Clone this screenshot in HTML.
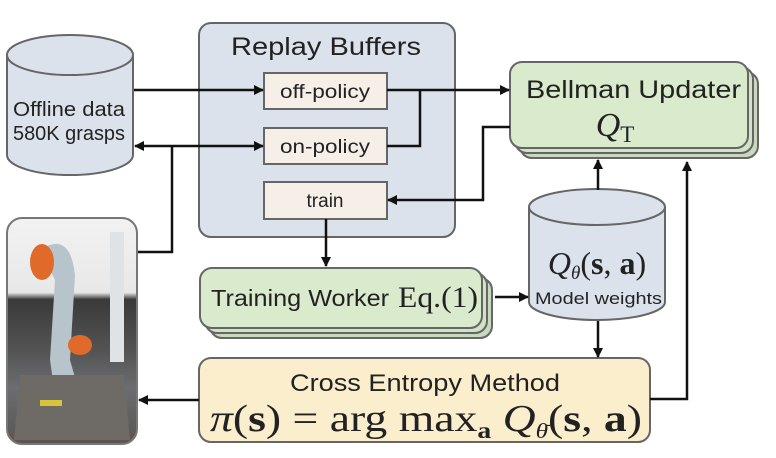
<!DOCTYPE html>
<html><head><meta charset="utf-8"><style>
html,body{margin:0;padding:0;background:#fff;}
svg{display:block}
.s{font-family:"Liberation Sans",sans-serif;fill:#222}
.m{font-family:"Liberation Serif",serif;fill:#222}
</style></head><body>
<svg width="776" height="458" viewBox="0 0 776 458" xmlns="http://www.w3.org/2000/svg">
<defs>
<marker id="a" markerWidth="10" markerHeight="10" refX="9" refY="5" orient="auto" markerUnits="userSpaceOnUse"><path d="M0,0 L10,5 L0,10 z" fill="#111"/></marker>
<linearGradient id="rb" x1="0" y1="0" x2="0" y2="1">
<stop offset="0" stop-color="#f2f2f2"/><stop offset="0.33" stop-color="#e8e8e8"/><stop offset="0.36" stop-color="#3a3a3a"/><stop offset="0.6" stop-color="#555"/><stop offset="0.75" stop-color="#6a6e72"/><stop offset="1" stop-color="#5a5450"/></linearGradient>
</defs>
<path d="M7,55 L7,155 A63,20 0 0 0 133,155 L133,55" fill="#dbe2ec" stroke="#666" stroke-width="2"/>
<ellipse cx="70" cy="55" rx="63" ry="20" fill="#dbe2ec" stroke="#666" stroke-width="2"/>
<text class="s" x="13" y="116" font-size="20" textLength="112" lengthAdjust="spacingAndGlyphs">Offline data</text>
<text class="s" x="13" y="140" font-size="20" textLength="112" lengthAdjust="spacingAndGlyphs">580K grasps</text>
<rect x="199" y="23" width="256" height="214" rx="12" fill="#dbe2ec" stroke="#666" stroke-width="2"/>
<text class="s" x="231" y="55" font-size="25" textLength="190" lengthAdjust="spacingAndGlyphs">Replay Buffers</text>
<rect x="264" y="73" width="123" height="36" fill="#f6efe8" stroke="#666" stroke-width="2"/>
<text class="s" x="280" y="98" font-size="19" textLength="90" lengthAdjust="spacingAndGlyphs">off-policy</text>
<rect x="264" y="128" width="123" height="36" fill="#f6efe8" stroke="#666" stroke-width="2"/>
<text class="s" x="280" y="153" font-size="19" textLength="90" lengthAdjust="spacingAndGlyphs">on-policy</text>
<rect x="264" y="182" width="123" height="37" fill="#f6efe8" stroke="#666" stroke-width="2"/>
<text class="s" x="325" y="207" font-size="19" text-anchor="middle">train</text>
<rect x="520" y="72" width="238" height="86" rx="12" fill="#c9d9bf" stroke="#666" stroke-width="2"/>
<rect x="515" y="67" width="238" height="86" rx="12" fill="#d2e2c6" stroke="#666" stroke-width="2"/>
<rect x="510" y="62" width="238" height="86" rx="12" fill="#daeacd" stroke="#666" stroke-width="2"/>
<text class="s" x="526" y="98" font-size="25" textLength="215" lengthAdjust="spacingAndGlyphs">Bellman Updater</text>
<text class="m" x="615" y="136" font-size="34" font-style="italic" text-anchor="middle">Q<tspan font-style="normal" font-size="23" dy="6">T</tspan></text>
<path d="M529,207 L529,302 A68,18 0 0 0 665,302 L665,207" fill="#dbe2ec" stroke="#666" stroke-width="2"/>
<ellipse cx="597" cy="207" rx="68" ry="18" fill="#dbe2ec" stroke="#666" stroke-width="2"/>
<text class="m" x="597" y="274" font-size="32" text-anchor="middle"><tspan font-style="italic">Q</tspan><tspan font-style="italic" font-size="19" dy="5">θ</tspan><tspan dy="-5">(</tspan><tspan font-weight="bold">s</tspan>, <tspan font-weight="bold">a</tspan>)</text>
<text class="s" x="535" y="304" font-size="17" textLength="127" lengthAdjust="spacingAndGlyphs">Model weights</text>
<rect x="210" y="278" width="282" height="60" rx="12" fill="#c9d9bf" stroke="#666" stroke-width="2"/>
<rect x="205" y="273" width="282" height="60" rx="12" fill="#d2e2c6" stroke="#666" stroke-width="2"/>
<rect x="200" y="268" width="282" height="60" rx="12" fill="#daeacd" stroke="#666" stroke-width="2"/>
<text class="s" x="211" y="306" font-size="23" textLength="178" lengthAdjust="spacingAndGlyphs">Training Worker</text>
<text class="m" x="398" y="307" font-size="30" textLength="80" lengthAdjust="spacingAndGlyphs">Eq.(1)</text>
<rect x="199" y="358" width="451" height="84" rx="12" fill="#fbeecd" stroke="#666" stroke-width="2"/>
<text class="s" x="290" y="391" font-size="24" textLength="270" lengthAdjust="spacingAndGlyphs">Cross Entropy Method</text>
<text class="m" x="210" y="431" font-size="38" textLength="432" lengthAdjust="spacingAndGlyphs"><tspan font-style="italic">π</tspan>(<tspan font-weight="bold">s</tspan>) = arg max<tspan font-weight="bold" font-size="23" dy="7">a</tspan> <tspan dy="-7" font-style="italic">Q</tspan><tspan font-style="italic" font-size="21" dy="7">θ̄</tspan><tspan dy="-7">(</tspan><tspan font-weight="bold">s</tspan>, <tspan font-weight="bold">a</tspan>)</text>
<rect x="7" y="218" width="130" height="226" rx="15" fill="url(#rb)" stroke="#777" stroke-width="2"/>
<rect x="110" y="232" width="14" height="130" fill="#dfe3e6"/>
<path d="M40,250 Q70,230 75,275 L70,360 L90,430 L60,430 L50,360 L55,280 Z" fill="#b8c4cc"/>
<ellipse cx="42" cy="262" rx="12" ry="18" fill="#e06a2a"/>
<ellipse cx="80" cy="345" rx="12" ry="10" fill="#e06a2a"/>
<path d="M20,375 L124,375 L130,440 L14,440 Z" fill="#6e6a66"/>
<rect x="40" y="400" width="22" height="6" fill="#d8c43a"/>
<g stroke="#111" stroke-width="2.5" fill="none">
<line x1="134" y1="90" x2="263" y2="90" marker-end="url(#a)"/>
<line x1="387" y1="90" x2="509" y2="90" marker-end="url(#a)"/>
<polyline points="387,146 420,146 420,90"/>
<line x1="172" y1="146" x2="135" y2="146" marker-end="url(#a)"/>
<line x1="172" y1="146" x2="263" y2="146" marker-end="url(#a)"/>
<polyline points="172,146 172,252 138,252"/>
<polyline points="510,127 483,127 483,200 388,200" marker-end="url(#a)"/>
<line x1="326" y1="219" x2="326" y2="266" marker-end="url(#a)"/>
<line x1="495" y1="297" x2="528" y2="297" marker-end="url(#a)"/>
<line x1="598" y1="190" x2="598" y2="160" marker-end="url(#a)"/>
<line x1="598" y1="321" x2="598" y2="357" marker-end="url(#a)"/>
<polyline points="650,399 687,399 687,162" marker-end="url(#a)"/>
<line x1="199" y1="400" x2="139" y2="400" marker-end="url(#a)"/>
</g>
</svg>
</body></html>
